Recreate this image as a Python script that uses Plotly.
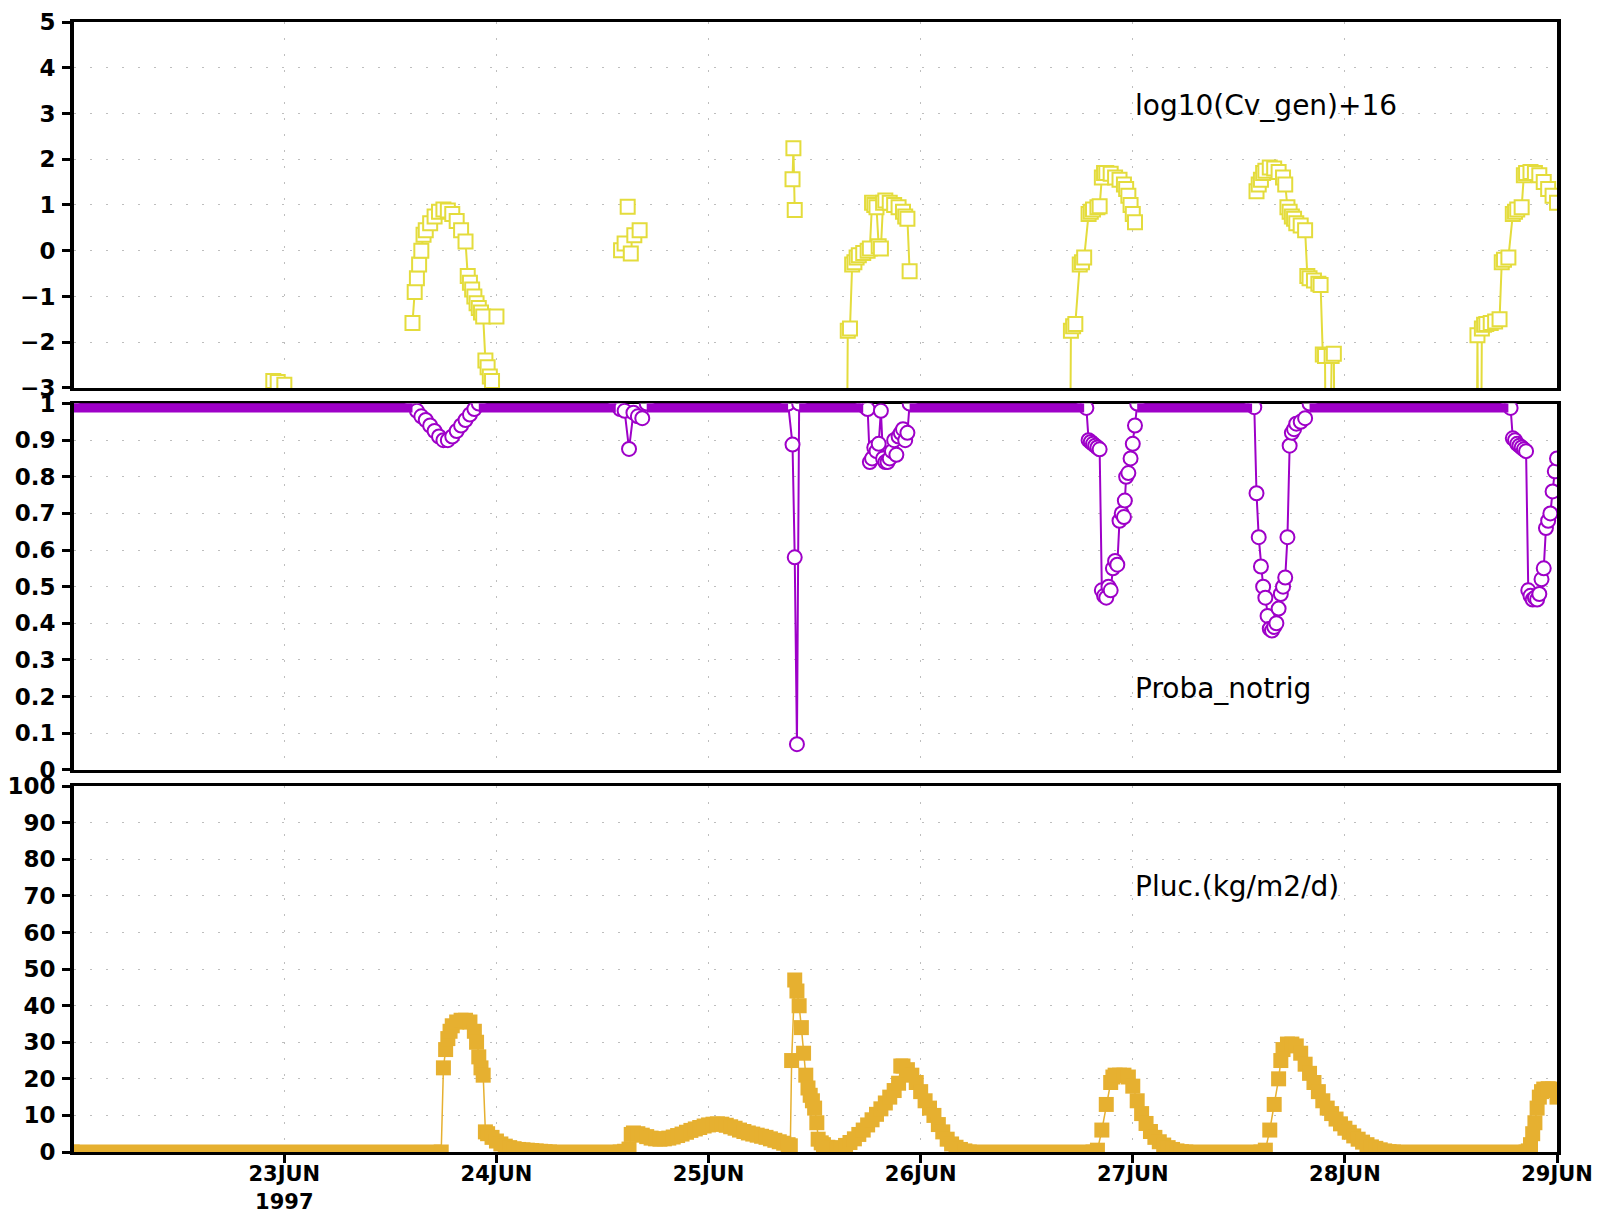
import plotly.graph_objects as go

# ---------------- data (time in hours since 22JUN1997 00:00) ----------------
OFF = -10  # value below the plotted range (no generation)

cv_hours = [22.75, 23.25, 24.0, 24.25,
            38.5, 38.75, 39.0, 39.25, 39.5, 39.75, 40.0, 40.5, 41.0, 41.5, 42.0, 42.5, 43.0, 43.5, 44.0, 44.5,
            44.75, 45.0, 45.25, 45.5, 45.75, 46.0, 46.25, 46.5, 46.75, 47.0, 47.25, 47.5, 47.75, 48.0, 48.25,
            62.1, 62.3, 62.5, 62.7, 62.85, 63.0, 63.2, 63.4, 63.6, 63.9, 64.2, 64.4,
            81.5, 81.6, 81.75, 82.0,
            87.5, 87.75, 88.0, 88.25, 88.5, 88.75, 89.0, 89.5, 90.0, 90.25, 90.5, 90.75, 91.0, 91.25, 91.5,
            91.75, 92.0, 92.5, 93.0, 93.5, 94.0, 94.25, 94.5, 94.75, 95.0,
            112.75, 113.0, 113.25, 113.5, 114.0, 114.25, 114.5, 115.0, 115.25, 115.5, 116.0, 116.25, 116.5,
            116.75, 117.0, 117.5, 118.0, 118.5, 119.0, 119.25, 119.5, 119.75, 120.0, 120.25, 120.5,
            133.75, 134.0, 134.25, 134.5, 134.75, 135.0, 135.5, 136.0, 136.5, 137.0, 137.25, 137.5, 137.75,
            138.0, 138.25, 138.5, 139.0, 139.5, 139.75, 140.0, 140.5, 141.0, 141.25, 141.5, 141.75, 142.0,
            142.5, 142.75, 143.0, 143.25,
            158.75, 159.0, 159.25, 159.5, 159.75, 160.0, 160.5, 161.0, 161.5, 161.75, 162.0, 162.5, 163.0,
            163.25, 163.5, 164.0, 164.25, 164.5, 165.0, 165.5, 166.0, 166.5, 167.0, 167.5, 168.0]
cv_values = [-2.85, -2.87, -2.93, None,
             -1.58, -0.9, -0.6, -0.3, 0.0, 0.35, 0.45, 0.6, 0.75, 0.85, 0.9, 0.88, 0.8, 0.65, 0.45, 0.2,
             -0.55, -0.7, -0.85, -1.0, -1.15, -1.25, -1.35, -1.44, -2.4, -2.55, -2.75, -2.85, None, -1.44, None,
             0.01, None, 0.16, None, 0.96, None, -0.06, None, 0.34, None, 0.45, None,
             1.56, 2.24, 0.89, None,
             OFF, -1.75, -1.7, -0.3, -0.25, -0.15, -0.1, -0.05, 0.0, 0.05, 1.05, 1.0, 0.95, 0.1, 0.05,
             1.05, 1.1, 1.05, 1.0, 0.95, 0.85, 0.75, 0.7, -0.45, None,
             OFF, -1.75, -1.65, -1.6, -0.3, -0.25, -0.15, 0.8, 0.85, 0.9, 0.95, 0.97, 1.6,
             1.7, 1.7, 1.68, 1.6, 1.55, 1.45, 1.35, 1.2, 1.0, 0.8, 0.62, None,
             None, 1.3, 1.45, 1.55, 1.7, 1.75, 1.82, 1.8, 1.72, 1.6, 1.45, 0.95, 0.85,
             0.75, 0.7, 0.6, 0.55, 0.45, -0.55, -0.6, -0.65, -0.72, -0.75, -2.27, -2.3, OFF,
             -2.3, -2.25, OFF, None,
             OFF, -1.85, OFF, -1.7, -1.62, -1.6, -1.58, -1.55, -1.5, -0.25, -0.2, -0.15, 0.8,
             0.85, 0.9, 0.95, 1.65, 1.7, 1.72, 1.7, 1.65, 1.5, 1.35, 1.2, 1.05]

pn_hours = [0.0,
            38.5, 39.0, 39.5, 40.0, 40.5, 41.0, 41.5, 42.0, 42.5, 43.0, 43.5, 44.0, 44.5, 45.0, 45.5, 46.0,
            61.5, 62.0, 62.5, 63.0, 63.5, 64.0, 64.5, 65.0,
            81.0, 81.5, 81.75, 82.0, 82.25,
            89.5, 89.75, 90.0, 90.25, 90.5, 90.75, 91.0, 91.25, 91.5, 91.75, 92.0, 92.25, 92.5, 92.75, 93.0,
            93.25, 93.5, 93.75, 94.0, 94.25, 94.5, 94.75,
            114.5, 114.75, 115.0, 115.25, 115.5, 115.75, 116.0, 116.25, 116.5, 116.75, 117.0, 117.25, 117.5,
            117.75, 118.0, 118.25, 118.5, 118.75, 119.0, 119.1, 119.25, 119.5, 119.75, 120.0, 120.25, 120.5,
            133.5, 133.75, 134.0, 134.25, 134.5, 134.75, 135.0, 135.25, 135.5, 135.75, 136.0, 136.25, 136.5,
            136.75, 137.0, 137.25, 137.5, 137.75, 138.0, 138.25, 138.5, 139.0, 139.5, 140.0,
            162.5, 162.75, 163.0, 163.25, 163.5, 163.75, 164.0, 164.25, 164.5, 164.75, 165.0, 165.25, 165.5,
            165.75, 166.0, 166.25, 166.5, 166.75, 167.0, 167.25, 167.5, 167.75, 168.0]
pn_values = [1.0,
             1.0, 0.98, 0.965, 0.955, 0.94, 0.925, 0.91, 0.9, 0.9, 0.91, 0.925, 0.94, 0.955, 0.97, 0.985, 1.0,
             1.0, 0.985, 0.98, 0.876, 0.975, 0.965, 0.96, 1.0,
             1.0, 0.888, 0.58, 0.07, 1.0,
             1.0, 0.99, 0.985, 0.84, 0.85, 0.88, 0.87, 0.89, 0.98, 0.85, 0.84, 0.84, 0.85, 0.87, 0.9,
             0.86, 0.91, 0.92, 0.93, 0.9, 0.92, 1.0,
             1.0, 0.988, 0.9, 0.895, 0.89, 0.885, 0.88, 0.875, 0.49, 0.475, 0.47, 0.5, 0.49,
             0.55, 0.57, 0.56, 0.68, 0.7, 0.69, 0.735, 0.8, 0.81, 0.85, 0.89, 0.94, 1.0,
             1.0, 0.99, 0.755, 0.635, 0.555, 0.5, 0.47, 0.42, 0.385, 0.38, 0.39, 0.4, 0.44,
             0.48, 0.5, 0.525, 0.635, 0.885, 0.92, 0.93, 0.945, 0.95, 0.96, 1.0,
             1.0, 0.988, 0.905, 0.9, 0.89, 0.885, 0.88, 0.875, 0.87, 0.49, 0.475, 0.465, 0.47,
             0.465, 0.48, 0.52, 0.55, 0.66, 0.68, 0.7, 0.76, 0.815, 0.85]

pl_hours = [0.0, 41.75,
            42.0, 42.25, 42.5, 42.75, 43.0, 43.5, 44.0, 44.5, 45.0, 45.5, 45.75, 46.0, 46.25, 46.5, 46.75,
            47.0, 47.5, 48.0, 48.5, 49.0, 49.5, 50.0, 50.5, 51.0, 51.5, 52.0, 52.5, 53.0, 53.5, 54.0,
            62.0, 62.5, 63.0, 63.25, 63.5, 64.0, 64.5, 65.0, 65.5, 66.0, 66.5, 67.0, 67.5, 68.0, 68.5, 69.0,
            69.5, 70.0, 70.5, 71.0, 71.5, 72.0, 72.5, 73.0, 73.5, 74.0, 74.5, 75.0, 75.5, 76.0, 76.5, 77.0,
            77.5, 78.0, 78.5, 79.0, 79.5, 80.0, 80.5, 81.0, 81.25,
            81.4, 81.75, 82.0, 82.25, 82.5, 82.75, 83.0, 83.25, 83.5, 83.75, 84.0, 84.25, 84.4, 84.75, 85.0,
            85.5, 86.0, 86.5,
            87.0, 87.5, 88.0, 88.5, 89.0, 89.5, 90.0, 90.5, 91.0, 91.5, 92.0, 92.5, 93.0, 93.5, 93.75, 94.0,
            94.5, 95.0, 95.5, 96.0, 96.5, 97.0, 97.5, 98.0, 98.5, 99.0, 99.5, 100.0, 100.5, 101.0, 101.5,
            115.5, 116.0, 116.5, 117.0, 117.5, 117.75, 118.0, 118.5, 119.0, 119.5, 120.0, 120.5, 121.0, 121.5,
            122.0, 122.5, 123.0, 123.5, 124.0, 124.5, 125.0, 125.5, 126.0,
            134.5, 135.0, 135.5, 136.0, 136.5, 136.75, 137.0, 137.5, 138.0, 138.5, 139.0, 139.5, 140.0, 140.5,
            141.0, 141.5, 142.0, 142.5, 143.0, 143.5, 144.0, 144.5, 145.0, 145.5, 146.0, 146.5, 147.0, 147.5,
            148.0, 148.5, 149.0, 149.5,
            164.5, 164.75, 165.0, 165.25, 165.5, 165.75, 166.0, 166.25, 166.5, 167.0, 167.5, 167.75, 168.0]
pl_values = [0, 0,
             23, 28, 31, 33, 34.5, 35.5, 36, 36, 35.5, 33, 30, 26, 23, 21, 5.5,
             5, 4, 3, 2.2, 1.6, 1.2, 0.9, 0.7, 0.6, 0.5, 0.4, 0.3, 0.2, 0.1, 0,
             0, 0.2, 0.8, 4.8, 5.2, 5.0, 4.6, 4.2, 3.8, 3.6, 3.5, 3.6, 3.8, 4.1, 4.5, 4.9,
             5.4, 5.9, 6.3, 6.7, 7.1, 7.4, 7.6, 7.7, 7.6, 7.3, 6.9, 6.5, 6.0, 5.6, 5.2, 4.9,
             4.6, 4.3, 4.0, 3.6, 3.2, 2.8, 2.4, 2.0, 1.7,
             25, 47, 44, 40, 34, 27, 21, 17.5, 15.5, 14, 12, 8, 3.5, 2.5, 2.0,
             1.3, 1.0, 0.9,
             1.2, 1.8, 2.6, 3.6, 4.8, 6.0, 7.4, 8.8, 10.3, 11.8, 13.4, 15.0, 16.8, 18.8, 23.5, 23.5,
             22.5, 21.0, 19.0, 16.5, 14.0, 12.0, 10.0, 7.5, 5.5, 3.5, 2.2, 1.3, 0.7, 0.3, 0,
             0, 0.5, 6, 13, 19, 20.5, 21, 21, 21, 20.5, 18, 14, 10.5, 7.8,
             5.6, 4.0, 2.8, 1.9, 1.2, 0.7, 0.3, 0.1, 0,
             0, 0.5, 6, 13, 20, 25, 28, 29.5, 29.5, 29, 27, 24, 21.5, 19,
             16.5, 14, 12, 10.5, 9, 7.7, 6.5, 5.4, 4.4, 3.5, 2.7, 2.0, 1.4, 1.0,
             0.6, 0.3, 0.1, 0,
             0, 0.3, 2, 5, 8, 12, 15, 16.5, 17.2, 17.3, 17.2, 16.8, 15]

day_ticks = [24, 48, 72, 96, 120, 144, 168]
day_labels = ["23JUN<br>1997", "24JUN", "25JUN", "26JUN", "27JUN", "28JUN", "29JUN"]

labels = ["log10(Cv_gen)+16", "Proba_notrig", "Pluc.(kg/m2/d)"]

# ---------------- style ----------------
YELLOW = "rgb(228,220,60)"
PURPLE = "rgb(158,0,200)"
MUSTARD = "rgb(230,176,48)"
GRID = "rgb(190,190,190)"
YTICKFONT = dict(family="DejaVu Sans", size=23, color="black", weight="bold")
XTICKFONT = dict(family="DejaVu Sans", size=21, color="black", weight="bold")

pn_band = [v if v == 1.0 else None for v in pn_values]
pl_band = [v if v == 0 else None for v in pl_values]

fig = go.Figure()
fig.add_trace(go.Scatter(x=cv_hours, y=cv_values, xaxis="x", yaxis="y", mode="lines+markers",
                         line=dict(color=YELLOW, width=2),
                         marker=dict(symbol="square", size=14, color="white",
                                     line=dict(color=YELLOW, width=2))))
fig.add_trace(go.Scatter(x=pn_hours, y=pn_values, xaxis="x2", yaxis="y2", mode="lines+markers",
                         line=dict(color=PURPLE, width=2),
                         marker=dict(symbol="circle", size=14, color="white",
                                     line=dict(color=PURPLE, width=2))))
fig.add_trace(go.Scatter(x=pn_hours, y=pn_band, xaxis="x2", yaxis="y2", mode="lines",
                         line=dict(color=PURPLE, width=18)))
fig.add_trace(go.Scatter(x=pl_hours, y=pl_values, xaxis="x3", yaxis="y3", mode="lines+markers",
                         line=dict(color=MUSTARD, width=1.5),
                         marker=dict(symbol="square", size=15, color=MUSTARD, line=dict(width=0))))
fig.add_trace(go.Scatter(x=pl_hours, y=pl_band, xaxis="x3", yaxis="y3", mode="lines",
                         line=dict(color=MUSTARD, width=15)))

xr = [0.2, 168]
common_x = dict(range=xr, showline=True, linecolor="black", linewidth=3, mirror=True,
                showgrid=True, gridcolor=GRID, griddash="2px,14px", gridwidth=1,
                tickvals=day_ticks, ticktext=day_labels, zeroline=False, layer="below traces",
                automargin=False, ticklabeloverflow="allow")
common_y = dict(showline=True, linecolor="black", linewidth=4, mirror=True,
                showgrid=True, gridcolor=GRID, griddash="2px,14px", gridwidth=1,
                ticks="outside", ticklen=8, tickwidth=2.5, tickcolor="black",
                tickfont=YTICKFONT, zeroline=False, layer="below traces", ticklabelstandoff=2,
                automargin=False, ticklabeloverflow="allow")

# The page body adds a small offset, so margins compensate for it.
fig.update_layout(
    width=1613, height=1213,
    margin=dict(l=66, r=64, t=14, b=69, autoexpand=False),
    paper_bgcolor="white", plot_bgcolor="white",
    showlegend=False,
    xaxis=dict(common_x, anchor="y", showticklabels=False, ticks=""),
    xaxis2=dict(common_x, anchor="y2", showticklabels=False, ticks=""),
    xaxis3=dict(common_x, anchor="y3", ticks="outside", ticklen=8, tickwidth=2.5, tickcolor="black",
                tickfont=XTICKFONT, ticklabelstandoff=-7),
    yaxis=dict(common_y, domain=[0.67615, 1.0], range=[-3, 5], tickvals=list(range(-3, 6)), anchor="x"),
    yaxis2=dict(common_y, domain=[0.33825, 0.66237], range=[0, 1],
                tickvals=[i / 10 for i in range(11)],
                ticktext=["0", "0.1", "0.2", "0.3", "0.4", "0.5", "0.6", "0.7", "0.8", "0.9", "1"],
                anchor="x2"),
    yaxis3=dict(common_y, domain=[0.0, 0.32376], range=[0, 100], tickvals=list(range(0, 101, 10)),
                anchor="x3"),
)

ann_font = dict(family="DejaVu Sans", size=28, color="black")
fig.add_annotation(x=120, y=3.18, xref="x", yref="y", text=labels[0], showarrow=False,
                   xanchor="left", yanchor="middle", font=ann_font)
fig.add_annotation(x=120, y=0.222, xref="x2", yref="y2", text=labels[1], showarrow=False,
                   xanchor="left", yanchor="middle", font=ann_font)
fig.add_annotation(x=120, y=72.5, xref="x3", yref="y3", text=labels[2], showarrow=False,
                   xanchor="left", yanchor="middle", font=ann_font)

fig.write_html("out.html")
